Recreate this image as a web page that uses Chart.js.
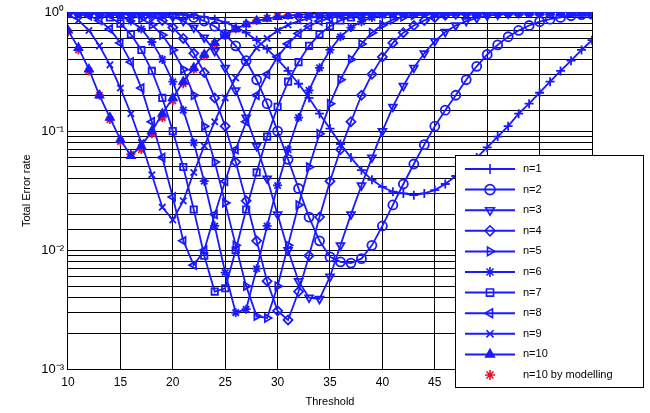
<!DOCTYPE html>
<html>
<head>
<meta charset="utf-8">
<script src="https://cdn.jsdelivr.net/npm/chart.js@4"></script>
<style>
body { margin: 0; background: #fff; }
#wrap { width: 650px; height: 413px; }
</style>
</head>
<body>
<div id="wrap"><canvas id="c" width="650" height="413"></canvas></div>
<script>
// seuils (axe x)
const thresholds = [10,11,12,13,14,15,16,17,18,19,20,21,22,23,24,25,26,27,28,29,30,31,32,33,34,35,36,37,38,39,40,41,42,43,44,45,46,47,48,49,50,51,52,53,54,55,56,57,58,59,60];

const n1 = [1,1,1,1,1,1,1,0.99,0.99,0.98,0.97,0.96,0.94,0.91,0.87,0.82,0.75,0.67,0.58,0.49,0.4,0.32,0.25,0.19,0.14,0.105,0.078,0.06,0.047,0.039,0.034,0.031,0.03,0.029,0.03,0.032,0.036,0.042,0.05,0.06,0.073,0.09,0.11,0.14,0.17,0.21,0.26,0.32,0.39,0.48,0.58];
const n2 = [1,1,1,1,1,1,0.99,0.99,0.98,0.97,0.96,0.94,0.9,0.84,0.76,0.65,0.52,0.39,0.27,0.17,0.1,0.058,0.033,0.019,0.012,0.0088,0.008,0.0078,0.0085,0.011,0.016,0.024,0.036,0.053,0.077,0.11,0.15,0.2,0.27,0.35,0.44,0.53,0.62,0.7,0.77,0.83,0.87,0.9,0.93,0.95,0.96];
const n3 = [1,1,1,1,1,0.99,0.99,0.98,0.97,0.95,0.91,0.84,0.74,0.61,0.47,0.34,0.22,0.13,0.075,0.04,0.02,0.01,0.0055,0.004,0.0039,0.006,0.011,0.02,0.035,0.06,0.1,0.16,0.24,0.34,0.45,0.57,0.68,0.77,0.84,0.89,0.93,0.95,0.97,0.98,0.99,0.99,1,1,1,1,1];
const n4 = [1,1,1,1,0.99,0.99,0.98,0.96,0.92,0.85,0.74,0.6,0.45,0.31,0.19,0.11,0.055,0.026,0.012,0.0055,0.0031,0.0026,0.0045,0.009,0.019,0.038,0.07,0.12,0.2,0.3,0.42,0.55,0.67,0.77,0.85,0.9,0.94,0.96,0.97,0.98,0.99,0.99,1,1,1,1,1,1,1,1,1];
const n5 = [1,1,1,0.99,0.98,0.97,0.94,0.88,0.78,0.64,0.48,0.33,0.2,0.11,0.055,0.025,0.011,0.005,0.0028,0.0027,0.005,0.011,0.024,0.05,0.095,0.17,0.27,0.4,0.54,0.67,0.78,0.86,0.91,0.94,0.96,0.97,0.98,0.99,0.99,1,1,1,1,1,1,1,1,1,1,1,1];
const n6 = [1,1,0.99,0.98,0.96,0.92,0.84,0.72,0.56,0.4,0.26,0.15,0.08,0.038,0.016,0.0065,0.003,0.0032,0.007,0.016,0.035,0.07,0.13,0.22,0.34,0.48,0.62,0.74,0.83,0.9,0.94,0.96,0.97,0.98,0.99,0.99,1,1,1,1,1,1,1,1,1,1,1,1,1,1,1];
const n7 = [1,0.99,0.98,0.95,0.9,0.8,0.65,0.48,0.32,0.19,0.1,0.05,0.022,0.009,0.0045,0.0048,0.01,0.022,0.045,0.09,0.16,0.26,0.38,0.52,0.65,0.76,0.85,0.9,0.94,0.96,0.97,0.98,0.99,0.99,1,1,1,1,1,1,1,1,1,1,1,1,1,1,1,1,1];
const n8 = [0.99,0.97,0.93,0.85,0.72,0.55,0.38,0.23,0.12,0.06,0.028,0.012,0.0075,0.01,0.02,0.038,0.07,0.12,0.2,0.3,0.42,0.54,0.66,0.76,0.84,0.89,0.93,0.95,0.97,0.98,0.99,0.99,1,1,1,1,1,1,1,1,1,1,1,1,1,1,1,1,1,1,1];
const n9 = [0.95,0.85,0.7,0.52,0.36,0.23,0.14,0.08,0.043,0.023,0.018,0.026,0.045,0.075,0.12,0.19,0.28,0.38,0.5,0.6,0.7,0.78,0.84,0.89,0.92,0.94,0.96,0.97,0.98,0.98,0.99,0.99,1,1,1,1,1,1,1,1,1,1,1,1,1,1,1,1,1,1,1];
const n10 = [0.7,0.5,0.33,0.2,0.13,0.085,0.062,0.075,0.1,0.14,0.19,0.26,0.34,0.44,0.55,0.64,0.72,0.79,0.84,0.88,0.91,0.93,0.95,0.96,0.97,0.98,0.98,0.99,0.99,0.99,1,1,1,1,1,1,1,1,1,1,1,1,1,1,1,1,1,1,1,1,1];
const model10 = [0.68,0.48,0.32,0.2,0.125,0.082,0.064,0.07,0.095,0.13,0.18,0.25,0.33,0.43,0.54,0.64,0.72,0.79,0.85,0.89,0.92,0.94,0.95,0.96,0.97,0.98,0.98,0.99,0.99,0.99,1,1,1,1,1,1,1,1,1,1,1,1,1,1,1,1,1,1,1,1,1];

const seriesValues = [n1, n2, n3, n4, n5, n6, n7, n8, n9, n10, model10];
const seriesLabels = ['n=1','n=2','n=3','n=4','n=5','n=6','n=7','n=8','n=9','n=10','n=10 by modelling'];
const yTickLabels = { 1: '10\u2070', 0.1: '10\u207B\u00B9', 0.01: '10\u207B\u00B2', 0.001: '10\u207B\u00B3' };

const BLUE = '#1a1aff';
const RED = '#e8102a';
const markers = [
    { style: 'cross', rot: 0, fill: false },
    { style: 'circle', rot: 0, fill: false },
    { style: 'triangle', rot: 180, fill: false },
    { style: 'rectRot', rot: 0, fill: false },
    { style: 'triangle', rot: 90, fill: false },
    { style: 'star', rot: 0, fill: false },
    { style: 'rect', rot: 0, fill: false },
    { style: 'triangle', rot: -90, fill: false },
    { style: 'crossRot', rot: 0, fill: true },
    { style: 'triangle', rot: 0, fill: true },
    { style: 'star', rot: 0, fill: false }
];

const datasets = seriesValues.map((vals, i) => {
    const color = i === 10 ? RED : BLUE;
    return {
        label: seriesLabels[i],
        data: vals.map((v, k) => ({ x: thresholds[k], y: v })),
        borderColor: color,
        backgroundColor: markers[i].fill ? color : 'rgba(0,0,0,0)',
        borderWidth: i === 10 ? 0 : 1.8,
        showLine: i !== 10,
        pointStyle: markers[i].style,
        rotation: markers[i].rot,
        pointRadius: 4.5,
        pointBorderWidth: 1.8,
        pointBorderColor: color,
        pointBackgroundColor: markers[i].fill ? color : 'rgba(0,0,0,0)'
    };
});

// Légende dessinée à la main (boîte à droite)
const boxLegend = {
    id: 'boxLegend',
    afterDraw(chart) {
        const ctx = chart.ctx;
        const x0 = 455, y0 = 155, w = 188, h = 232;
        ctx.save();
        ctx.fillStyle = '#fff';
        ctx.fillRect(x0, y0, w, h);
        ctx.strokeStyle = '#000';
        ctx.lineWidth = 1;
        ctx.strokeRect(x0 + 0.5, y0 + 0.5, w, h);
        ctx.font = '11px "Liberation Sans", Arial, sans-serif';
        ctx.textBaseline = 'middle';
        datasets.forEach((ds, i) => {
            const y = y0 + 14 + i * 20.6;
            const color = ds.borderColor;
            if (ds.showLine) {
                ctx.strokeStyle = color;
                ctx.lineWidth = 2;
                ctx.beginPath();
                ctx.moveTo(x0 + 10, y);
                ctx.lineTo(x0 + 60, y);
                ctx.stroke();
            }
            ctx.strokeStyle = color;
            ctx.fillStyle = ds.pointBackgroundColor;
            ctx.lineWidth = 1.6;
            Chart.helpers.drawPoint(ctx, { pointStyle: ds.pointStyle, rotation: ds.rotation, radius: 5, borderWidth: 1.6 }, x0 + 35, y);
            ctx.fillStyle = '#000';
            ctx.fillText(ds.label, x0 + 68, y);
        });
        ctx.restore();
    }
};

new Chart(document.getElementById('c'), {
    type: 'line',
    data: { datasets: datasets },
    options: {
        responsive: false,
        animation: false,
        layout: { padding: { top: 12, right: 58, left: 16, bottom: 4 } },
        plugins: { legend: { display: false }, tooltip: { enabled: false } },
        scales: {
            x: {
                type: 'linear', min: 10, max: 60,
                ticks: { stepSize: 5, color: '#000', font: { size: 12, family: 'Liberation Sans' }, padding: 6 },
                grid: { color: '#000', lineWidth: 1, drawTicks: false },
                border: { color: '#000' },
                title: { display: true, text: 'Threshold', color: '#000', font: { size: 11, family: 'Liberation Sans' }, padding: 0 }
            },
            y: {
                type: 'logarithmic', min: 0.001, max: 1,
                ticks: {
                    color: '#000', font: { size: 13, family: 'Liberation Sans' }, autoSkip: false, padding: 4,
                    callback: (v) => yTickLabels[v] || ''
                },
                grid: { color: '#000', lineWidth: 1, drawTicks: false },
                border: { color: '#000' },
                title: { display: true, text: 'Total Error rate', color: '#000', font: { size: 11, family: 'Liberation Sans' }, padding: 4 }
            }
        }
    },
    plugins: [boxLegend]
});
</script>
</body>
</html>
